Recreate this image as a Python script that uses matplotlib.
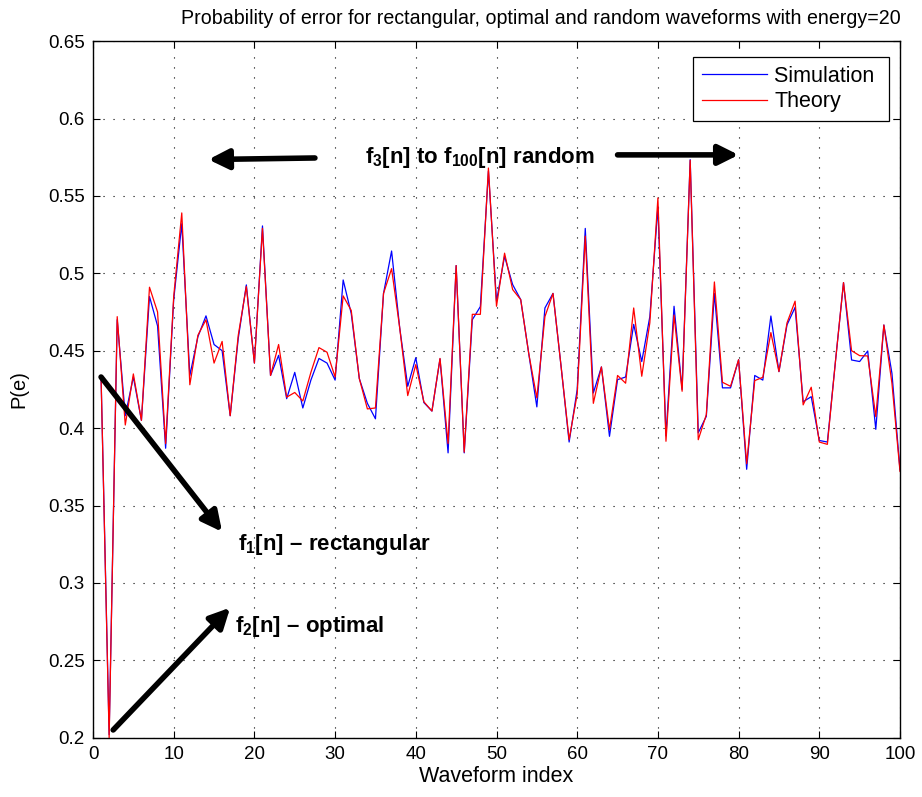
import numpy as np
import matplotlib
matplotlib.use('Agg')
from matplotlib import pyplot as plt
from matplotlib.ticker import FormatStrFormatter

plt.rcParams['font.family'] = ['Liberation Sans', 'DejaVu Sans']
plt.rcParams['mathtext.fontset'] = 'custom'
plt.rcParams['mathtext.rm'] = 'Liberation Sans'
plt.rcParams['mathtext.bf'] = 'Liberation Sans:bold'

# waveform index 1..100
index = np.arange(1, 101)

# probability of error, simulated
p_sim = [0.433, 0.202, 0.470, 0.408, 0.433, 0.405, 0.485, 0.466, 0.387, 0.483,
         0.532, 0.434, 0.459, 0.4725, 0.454, 0.450, 0.408, 0.458, 0.4925, 0.442,
         0.5306, 0.434, 0.447, 0.419, 0.436, 0.413, 0.431, 0.445, 0.442, 0.431,
         0.4957, 0.474, 0.432, 0.416, 0.406, 0.487, 0.5144, 0.465, 0.427, 0.4455,
         0.4165, 0.411, 0.4447, 0.384, 0.505, 0.384, 0.470, 0.4785, 0.566, 0.482,
         0.511, 0.4927, 0.483, 0.448, 0.4137, 0.4776, 0.487, 0.440, 0.391, 0.425,
         0.529, 0.4227, 0.4395, 0.3947, 0.4313, 0.433, 0.467, 0.443, 0.472, 0.543,
         0.395, 0.4787, 0.425, 0.5734, 0.397, 0.4076, 0.487, 0.426, 0.426, 0.4442,
         0.3734, 0.434, 0.431, 0.4724, 0.4365, 0.4667, 0.478, 0.417, 0.4203, 0.392,
         0.391, 0.443, 0.494, 0.444, 0.443, 0.4498, 0.3992, 0.4666, 0.4354, 0.373]

# probability of error, theory
p_theory = [0.433, 0.200, 0.472, 0.402, 0.435, 0.405, 0.491, 0.475, 0.390, 0.485,
            0.539, 0.428, 0.460, 0.470, 0.442, 0.456, 0.408, 0.460, 0.4915, 0.442,
            0.529, 0.434, 0.454, 0.420, 0.423, 0.4175, 0.436, 0.452, 0.449, 0.433,
            0.4854, 0.476, 0.432, 0.4124, 0.413, 0.487, 0.503, 0.465, 0.421, 0.441,
            0.417, 0.411, 0.445, 0.390, 0.505, 0.3845, 0.4735, 0.4735, 0.568, 0.4787,
            0.513, 0.4895, 0.483, 0.448, 0.4195, 0.472, 0.487, 0.440, 0.3925, 0.422,
            0.524, 0.416, 0.4395, 0.399, 0.434, 0.429, 0.4776, 0.4335, 0.468, 0.5487,
            0.3915, 0.473, 0.4238, 0.573, 0.3925, 0.4087, 0.4944, 0.4296, 0.427, 0.4442,
            0.377, 0.4307, 0.4328, 0.4617, 0.4365, 0.468, 0.482, 0.415, 0.4264, 0.391,
            0.3895, 0.443, 0.494, 0.450, 0.4468, 0.4466, 0.4074, 0.4666, 0.429, 0.372]

xticks = np.arange(0, 101, 10)
yticks = [0.2, 0.25, 0.3, 0.35, 0.4, 0.45, 0.5, 0.55, 0.6, 0.65]

fig = plt.figure(figsize=(9.22, 7.97), dpi=100)
ax = fig.add_axes([93/922, 1-737.7/797, 807/922, 696.6/797])

ax.plot(index, p_sim, color='b', lw=0.9, label='Simulation ')
ax.plot(index, p_theory, color='r', lw=0.9, label='Theory')

ax.set_xlim(0, 100)
ax.set_ylim(0.2, 0.65)
ax.set_xticks(xticks)
ax.set_yticks(yticks)
ax.yaxis.set_major_formatter(FormatStrFormatter('%g'))
ax.tick_params(direction='in', length=5, width=0.8, top=True, right=True,
               labelsize=13.5, colors='k', pad=6)
ax.grid(True, color='k', linestyle=(0, (1, 8)), lw=0.8)
for s in ax.spines.values():
    s.set_linewidth(1.0)

ax.set_xlabel('Waveform index', fontsize=15.5, labelpad=2)
ax.set_ylabel('P(e)', fontsize=14.5, labelpad=14)
fig.text(541/922, 1-18/797, 'Probability of error for rectangular, optimal and random '
         'waveforms with energy=20', ha='center', va='center', fontsize=14.1)

leg = ax.legend(loc='upper right', bbox_to_anchor=(0.9864, 0.977), fontsize=15.5,
                fancybox=False, edgecolor='k', framealpha=1, handlelength=3.0,
                borderpad=0.4, labelspacing=0.2, handletextpad=0.35,
                borderaxespad=0)
leg.get_frame().set_linewidth(0.9)

arrow = dict(arrowstyle='-|>,head_length=0.6,head_width=0.3', lw=4, color='k',
             shrinkA=0, shrinkB=0, mutation_scale=20)
ax.annotate('', xy=(14.3, 0.5735), xytext=(27.5, 0.5745), arrowprops=arrow)
ax.annotate('', xy=(80.0, 0.5765), xytext=(65.0, 0.5765), arrowprops=arrow)
ax.annotate('', xy=(16.0, 0.333), xytext=(1.0, 0.433), arrowprops=arrow)
ax.annotate('', xy=(17.0, 0.284), xytext=(2.5, 0.205), arrowprops=arrow)

ax.text(33.7, 0.5715, r'f$_\mathbf{3}$[n] to f$_\mathbf{100}$[n] random',
        fontsize=16, fontweight='bold', va='baseline', ha='left')
ax.text(18.0, 0.3213, r'f$_\mathbf{1}$[n] – rectangular',
        fontsize=16, fontweight='bold', va='baseline', ha='left')
ax.text(17.6, 0.2685, r'f$_\mathbf{2}$[n] – optimal',
        fontsize=16, fontweight='bold', va='baseline', ha='left')

fig.savefig('out.png', dpi=100)
